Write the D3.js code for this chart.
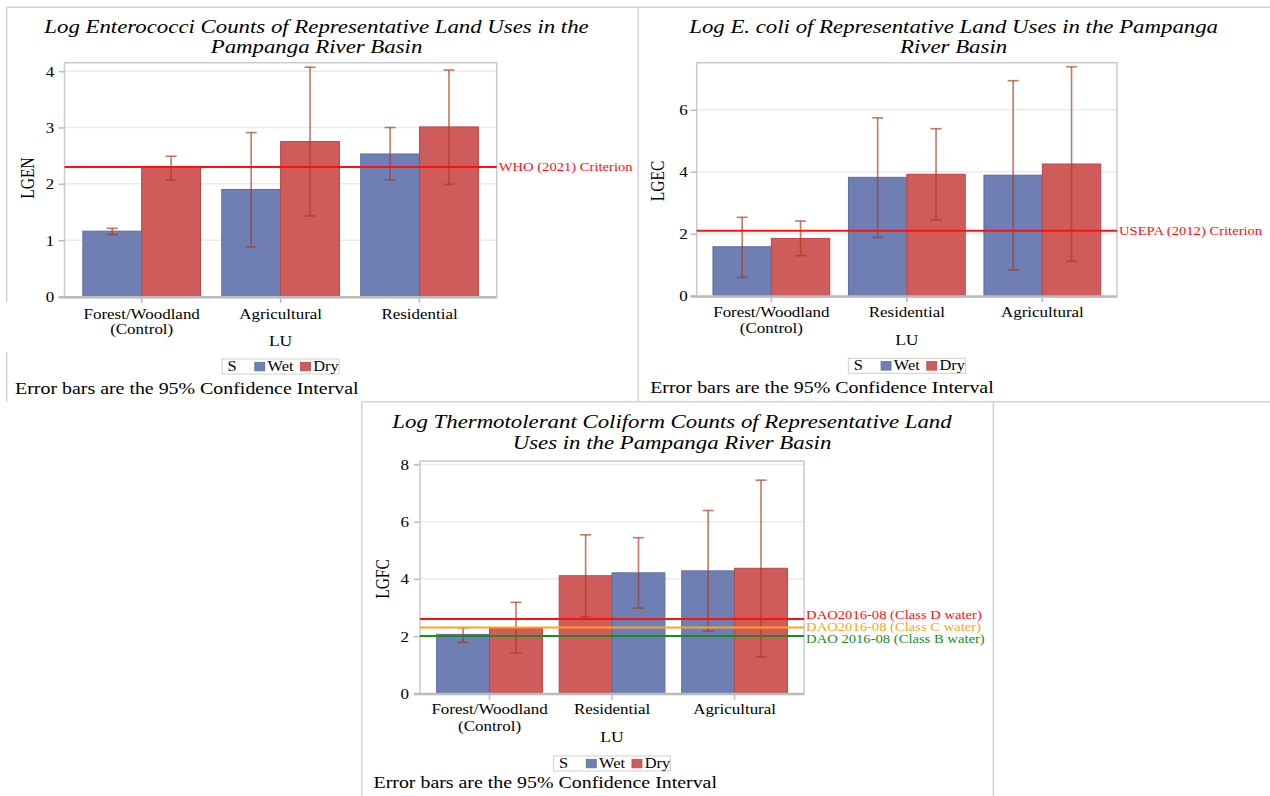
<!DOCTYPE html>
<html>
<head>
<meta charset="utf-8">
<script src="https://cdn.jsdelivr.net/npm/d3@7"></script>
<style>
  html, body { margin: 0; padding: 0; background: #ffffff; }
  svg { display: block; }
</style>
</head>
<body>
<svg id="chart" width="1270" height="796"></svg>
<script>
// ---------------- DATA ----------------
const seasons = ["Wet", "Dry"];

// Panel 1: Log Enterococci
const enCategories = ["Forest/Woodland (Control)", "Agricultural", "Residential"];
const enWet = [1.16, 1.90, 2.53];
const enWetLower = [1.10, 0.88, 2.07];
const enWetUpper = [1.21, 2.91, 3.00];
const enDry = [2.29, 2.75, 3.01];
const enDryLower = [2.07, 1.43, 1.99];
const enDryUpper = [2.49, 4.07, 4.02];
const enTicks = [0, 1, 2, 3, 4];
const enRefValues = [2.3];
const enRefLabels = ["WHO (2021) Criterion"];
const enOrder = [["Wet", "Dry"], ["Wet", "Dry"], ["Wet", "Dry"]];

// Panel 2: Log E. coli
const ecCategories = ["Forest/Woodland (Control)", "Residential", "Agricultural"];
const ecWet = [1.58, 3.82, 3.89];
const ecWetLower = [0.59, 1.88, 0.83];
const ecWetUpper = [2.53, 5.74, 6.94];
const ecDry = [1.85, 3.92, 4.25];
const ecDryLower = [1.29, 2.44, 1.11];
const ecDryUpper = [2.41, 5.39, 7.39];
const ecTicks = [0, 2, 4, 6];
const ecRefValues = [2.1];
const ecRefLabels = ["USEPA (2012) Criterion"];
const ecOrder = [["Wet", "Dry"], ["Wet", "Dry"], ["Wet", "Dry"]];

// Panel 3: Log Thermotolerant Coliform
const fcCategories = ["Forest/Woodland (Control)", "Residential", "Agricultural"];
const fcWet = [2.06, 4.21, 4.28];
const fcWetLower = [1.78, 2.98, 2.17];
const fcWetUpper = [2.29, 5.44, 6.39];
const fcDry = [2.29, 4.11, 4.37];
const fcDryLower = [1.41, 2.68, 1.28];
const fcDryUpper = [3.18, 5.54, 7.45];
const fcTicks = [0, 2, 4, 6, 8];
const fcRefValues = [2.6, 2.3, 2.0];
const fcRefLabels = ["DAO2016-08 (Class D water)", "DAO2016-08 (Class C water)", "DAO 2016-08 (Class B water)"];
const fcOrder = [["Wet", "Dry"], ["Dry", "Wet"], ["Wet", "Dry"]];

const footnote = "Error bars are the 95% Confidence Interval";
const xAxisTitle = "LU";
const legendTitle = "S";

// ---------------- STYLE ----------------
const SX = 1.17; // horizontal stretch of the original picture
const FONT = "'Liberation Serif', 'Times New Roman', Times, serif";
const seasonColor = { Wet: "#6f7eb3", Dry: "#d05b5b" };
const seasonStroke = { Wet: "#5f6da3", Dry: "#b84848" };
const errColor = "#a8391c";
const borderColor = "#d3d3d3";

const svg = d3.select("#chart");

function stext(parent, x, y, str, size, opts = {}) {
  const t = parent.append("text")
    .attr("transform", `translate(${x},${y}) scale(${SX},1)` + (opts.rotate ? ` rotate(${opts.rotate})` : ""))
    .attr("text-anchor", opts.anchor || "start")
    .attr("font-family", FONT)
    .attr("font-size", size)
    .attr("fill", opts.fill || "#000")
    .text(str);
  if (opts.italic) t.attr("font-style", "italic");
  if (opts.dy) t.attr("dy", opts.dy);
  return t;
}

// ---------------- PANEL BORDERS ----------------
const borders = svg.append("g").attr("stroke", borderColor).attr("stroke-width", 1.5).attr("fill", "none");
borders.append("line").attr("x1", 6.7).attr("y1", 7.3).attr("x2", 1270).attr("y2", 7.3);
borders.append("line").attr("x1", 6.7).attr("y1", 7.3).attr("x2", 6.7).attr("y2", 302);
borders.append("line").attr("x1", 6.7).attr("y1", 352).attr("x2", 6.7).attr("y2", 401.7);
borders.append("line").attr("x1", 638.3).attr("y1", 7.3).attr("x2", 638.3).attr("y2", 401.7);
borders.append("line").attr("x1", 361.7).attr("y1", 401.7).attr("x2", 1270).attr("y2", 401.7);
borders.append("line").attr("x1", 361.7).attr("y1", 401.7).attr("x2", 361.7).attr("y2", 796);
borders.append("line").attr("x1", 993.3).attr("y1", 401.7).attr("x2", 993.3).attr("y2", 796);

// ---------------- PANEL DRAW ----------------
function drawPanel(cfg) {
  const g = svg.append("g");
  const x = d3.scaleBand().domain(cfg.categories)
    .range([cfg.left, cfg.right]).paddingInner(cfg.pi).paddingOuter(cfg.po);
  const xs = d3.scaleBand().domain([0, 1]).range([0, x.bandwidth()]);
  const y = d3.scaleLinear().domain([0, cfg.ymax]).range([cfg.zeroY, cfg.top]);

  // gridlines
  g.append("g").selectAll("line").data(cfg.ticks.filter(d => d !== 0)).join("line")
    .attr("x1", cfg.left).attr("x2", cfg.right)
    .attr("y1", d => y(d)).attr("y2", d => y(d))
    .attr("stroke", "#ebebeb").attr("stroke-width", 1.5);

  // frame
  g.append("rect").attr("x", cfg.left).attr("y", cfg.top)
    .attr("width", cfg.right - cfg.left).attr("height", cfg.zeroY + 1 - cfg.top)
    .attr("fill", "none").attr("stroke", "#c7cbcf").attr("stroke-width", 1.5);

  // bars
  const series = {
    Wet: { v: cfg.wet, lo: cfg.wetLo, hi: cfg.wetHi },
    Dry: { v: cfg.dry, lo: cfg.dryLo, hi: cfg.dryHi }
  };
  const barData = [];
  cfg.categories.forEach((c, i) => {
    cfg.order[i].forEach((s, j) => {
      barData.push({ cat: c, slot: j, season: s, v: series[s].v[i], lo: series[s].lo[i], hi: series[s].hi[i] });
    });
  });
  g.append("g").selectAll("rect").data(barData).join("rect")
    .attr("x", d => x(d.cat) + xs(d.slot))
    .attr("y", d => y(d.v))
    .attr("width", xs.bandwidth())
    .attr("height", d => y(0) - y(d.v))
    .attr("fill", d => seasonColor[d.season])
    .attr("stroke", d => seasonStroke[d.season])
    .attr("stroke-width", 1);

  // zero baseline
  g.append("line").attr("x1", cfg.left - 6).attr("x2", cfg.right)
    .attr("y1", y(0) + 0.8).attr("y2", y(0) + 0.8)
    .attr("stroke", "#b9bcbf").attr("stroke-width", 2.5);

  // error bars
  const eb = g.append("g").attr("stroke", errColor).attr("stroke-opacity", 0.68).attr("stroke-width", 1.6);
  barData.forEach(d => {
    const cx = x(d.cat) + xs(d.slot) + xs.bandwidth() / 2;
    eb.append("line").attr("x1", cx).attr("x2", cx).attr("y1", y(d.lo)).attr("y2", y(d.hi));
    eb.append("line").attr("x1", cx - 5.5).attr("x2", cx + 5.5).attr("y1", y(d.lo)).attr("y2", y(d.lo));
    eb.append("line").attr("x1", cx - 5.5).attr("x2", cx + 5.5).attr("y1", y(d.hi)).attr("y2", y(d.hi));
  });

  // reference lines
  cfg.refValues.forEach((v, i) => {
    g.append("line").attr("x1", cfg.left).attr("x2", cfg.right)
      .attr("y1", y(v)).attr("y2", y(v))
      .attr("stroke", cfg.refColors[i]).attr("stroke-width", 2);
    stext(g, cfg.right + 2, cfg.refLabelY[i], cfg.refLabels[i], 12.5, { fill: cfg.refColors[i] });
  });

  // y axis
  const ya = g.append("g").attr("transform", `translate(${cfg.left},0)`)
    .call(d3.axisLeft(y).tickValues(cfg.ticks).tickSize(6).tickSizeOuter(0).tickFormat(d3.format("d")));
  ya.select(".domain").remove();
  ya.selectAll(".tick line").attr("stroke", "#b9bcbf").attr("stroke-width", 1.5);
  ya.selectAll(".tick text")
    .attr("x", null).attr("dy", null)
    .attr("transform", `translate(${-(cfg.left - cfg.tickRight)},0) scale(${SX},1)`)
    .attr("dy", "0.34em")
    .attr("font-family", FONT).attr("font-size", 14.5).attr("fill", "#000");

  // x axis ticks
  const xa = g.append("g").attr("transform", `translate(0,${y(0) + 1.5})`)
    .call(d3.axisBottom(x).tickSize(5).tickSizeOuter(0).tickFormat(""));
  xa.select(".domain").remove();
  xa.selectAll(".tick line").attr("stroke", "#b9bcbf").attr("stroke-width", 1.5);

  // category labels
  cfg.categories.forEach(c => {
    const cx = x(c) + x.bandwidth() / 2;
    const parts = c.split(" (");
    stext(g, cx, cfg.xlabY[0], parts[0], 14.5, { anchor: "middle" });
    if (parts.length > 1) stext(g, cx, cfg.xlabY[1], "(" + parts[1], 14.5, { anchor: "middle" });
  });
  const pc = (cfg.left + cfg.right) / 2;
  stext(g, pc, cfg.luY, xAxisTitle, 15, { anchor: "middle" });

  // y axis title
  stext(g, cfg.ylab[0], cfg.ylab[1], cfg.ylabel, 15.5, { anchor: "middle", rotate: -90, dy: "0.35em" });

  // title
  cfg.title.forEach((t, i) => {
    stext(g, cfg.titleX, cfg.titleY[i], t, 19.5, { anchor: "middle", italic: true });
  });

  // legend
  const lx = pc - 58.5, ly = cfg.legendY;
  const lg = g.append("g");
  lg.append("rect").attr("x", lx).attr("y", ly).attr("width", 117).attr("height", 15)
    .attr("fill", "#fff").attr("stroke", "#cfcfcf").attr("stroke-width", 1);
  stext(lg, lx + 5.4, ly + 12, legendTitle, 14);
  const itemX = [32.7, 78.4];
  seasons.forEach((s, i) => {
    lg.append("rect").attr("x", lx + itemX[i]).attr("y", ly + 3.3)
      .attr("width", 10).attr("height", 8.5)
      .attr("fill", seasonColor[s]).attr("stroke", seasonStroke[s]).attr("stroke-width", 0.8);
    stext(lg, lx + itemX[i] + 12.8, ly + 12, s, 14);
  });

  // footnote
  stext(g, cfg.foot[0], cfg.foot[1], footnote, 17);
}

drawPanel({
  categories: enCategories, wet: enWet, wetLo: enWetLower, wetHi: enWetUpper,
  dry: enDry, dryLo: enDryLower, dryHi: enDryUpper, order: enOrder,
  ticks: enTicks, refValues: enRefValues, refLabels: enRefLabels, refColors: ["#ff1010"],
  refLabelY: [171.2],
  left: 64.5, right: 496.7, top: 62.7, zeroY: 296.5, ymax: 4.15, pi: 0.153, po: 0.132,
  tickRight: 54.3, ylab: [27.5, 178], ylabel: "LGEN",
  title: ["Log Enterococci Counts of Representative Land Uses in the", "Pampanga River Basin"],
  titleX: 316.5, titleY: [33.3, 53.3],
  xlabY: [318.6, 334], luY: 346.3, legendY: 359, foot: [15.1, 393.8]
});

drawPanel({
  categories: ecCategories, wet: ecWet, wetLo: ecWetLower, wetHi: ecWetUpper,
  dry: ecDry, dryLo: ecDryLower, dryHi: ecDryUpper, order: ecOrder,
  ticks: ecTicks, refValues: ecRefValues, refLabels: ecRefLabels, refColors: ["#ff1010"],
  refLabelY: [235],
  left: 696.7, right: 1117, top: 62.7, zeroY: 295.7, ymax: 7.52, pi: 0.138, po: 0.12,
  tickRight: 687.8, ylab: [657.5, 181], ylabel: "LGEC",
  title: ["Log E. coli of Representative Land Uses in the Pampanga", "River Basin"],
  titleX: 953.6, titleY: [33.3, 53.3],
  xlabY: [317, 333.3], luY: 345, legendY: 358.3, foot: [650.2, 393]
});

drawPanel({
  categories: fcCategories, wet: fcWet, wetLo: fcWetLower, wetHi: fcWetUpper,
  dry: fcDry, dryLo: fcDryLower, dryHi: fcDryUpper, order: fcOrder,
  ticks: fcTicks, refValues: fcRefValues, refLabels: fcRefLabels,
  refColors: ["#ff1010", "#ffa51a", "#1f8a1f"],
  refLabelY: [619.3, 630.6, 643],
  left: 420, right: 804.1, top: 461, zeroY: 693.3, ymax: 8.12, pi: 0.137, po: 0.136,
  tickRight: 409, ylab: [382.5, 579], ylabel: "LGFC",
  title: ["Log Thermotolerant Coliform Counts of Representative Land", "Uses in the Pampanga River Basin"],
  titleX: 672, titleY: [428.3, 449.3],
  xlabY: [713.6, 730.8], luY: 741.8, legendY: 756, foot: [373.5, 788.3]
});
</script>
</body>
</html>
